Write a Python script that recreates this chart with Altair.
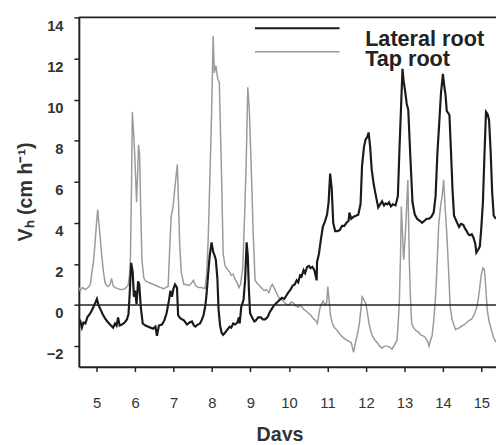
import altair as alt
import pandas as pd

# Lateral root (black)
lat_days = [4.54, 4.58, 4.62, 4.66, 4.71, 4.76, 4.84, 4.92, 5.01, 5.05, 5.10, 5.16, 5.22, 5.28, 5.35, 5.43,
            5.48, 5.52, 5.56, 5.60, 5.66, 5.73, 5.79, 5.83, 5.86, 5.90, 5.94, 5.97, 6.00, 6.04, 6.08, 6.11,
            6.15, 6.20, 6.27, 6.33, 6.40, 6.47, 6.53, 6.57, 6.62, 6.70, 6.76, 6.82, 6.88, 6.92, 6.96, 7.00,
            7.04, 7.09, 7.12, 7.18, 7.27, 7.35, 7.42, 7.48, 7.53, 7.57, 7.63, 7.69, 7.74, 7.78, 7.83, 7.86,
            7.90, 7.94, 7.99, 8.03, 8.07, 8.10, 8.14, 8.17, 8.21, 8.25, 8.29, 8.34, 8.40, 8.46, 8.50, 8.55,
            8.60, 8.66, 8.70, 8.72, 8.76, 8.82, 8.86, 8.90, 8.93, 8.96, 8.99, 9.04, 9.10, 9.14, 9.20, 9.27,
            9.32, 9.38, 9.44, 9.50, 9.55, 9.60, 9.65, 9.70, 9.76, 9.82, 9.88, 9.93, 9.98, 10.04, 10.10, 10.15,
            10.20, 10.24, 10.29, 10.33, 10.38, 10.42, 10.47, 10.52, 10.56, 10.61, 10.66, 10.72, 10.73, 10.78,
            10.83, 10.88, 10.94, 10.99, 11.03, 11.07, 11.11, 11.15, 11.20, 11.26, 11.32, 11.38, 11.44, 11.49,
            11.55, 11.57, 11.62, 11.68, 11.74, 11.80, 11.86, 11.90, 11.95, 11.99, 12.04, 12.07, 12.11, 12.15,
            12.20, 12.26, 12.32, 12.37, 12.42, 12.47, 12.51, 12.56, 12.60, 12.65, 12.70, 12.77, 12.83, 12.87,
            12.92, 12.95, 12.98, 13.02, 13.06, 13.10, 13.15, 13.21, 13.27, 13.33, 13.40, 13.46, 13.52, 13.58,
            13.64, 13.70, 13.76, 13.81, 13.86, 13.90, 13.95, 14.00, 14.04, 14.07, 14.10, 14.17, 14.21, 14.25,
            14.29, 14.36, 14.42, 14.47, 14.53, 14.58, 14.62, 14.66, 14.70, 14.75, 14.79, 14.84, 14.87, 14.92,
            14.96, 15.00, 15.04, 15.08, 15.12, 15.16, 15.20, 15.24, 15.28, 15.32, 15.38]
lat_vals = [-0.65, -0.8, -1.1, -0.85, -0.9, -0.6, -0.4, -0.1, 0.3, 0.0, -0.2, -0.45, -0.65, -0.8, -0.95, -1.1,
            -0.9, -1.0, -0.6, -1.0, -0.95, -0.85, -0.7, -0.45, 0.5, 2.05, 1.6, 0.4, 0.7, 0.05, 1.15, 1.0,
            -0.1, -0.9, -1.0, -1.05, -1.1, -1.15, -1.05, -1.5, -1.0, -0.95, -0.75, -0.4, 0.2, 0.7, 0.4, 0.8,
            1.0, 0.85, -0.5, -0.65, -0.75, -0.95, -0.85, -0.8, -1.0, -1.05, -0.95, -0.9, -0.7, -0.5, 0.0, 0.55,
            1.5, 2.4, 3.05, 2.6, 2.4, 2.2, 1.3, -0.2, -1.0, -1.35, -1.45, -1.35, -1.2, -1.05, -1.1, -0.9,
            -0.95, -0.85, -0.6, -0.9, -0.1, 0.25, 1.2, 3.05, 2.4, 0.7, -0.4, -0.6, -0.8, -0.75, -0.6, -0.6,
            -0.7, -0.7, -0.6, -0.35, -0.2, -0.05, 0.05, 0.15, 0.25, 0.35, 0.3, 0.45, 0.6, 0.75, 0.95, 1.0,
            1.2, 1.1, 1.45, 1.4, 1.7, 1.55, 1.85, 1.9, 1.8, 1.85, 1.7, 1.2, 2.1, 2.5,
            3.2, 3.8, 4.1, 4.4, 5.0, 6.4, 5.7, 4.0, 3.6, 3.6, 3.65, 3.85, 3.85, 4.0,
            4.1, 4.5, 4.2, 4.3, 4.35, 4.4, 4.9, 6.8, 7.7, 8.05, 8.2, 8.4, 7.7, 6.6,
            5.9, 5.3, 4.75, 4.9, 5.05, 4.85, 4.95, 4.9, 5.0, 4.8, 4.9, 4.85, 5.3, 7.5,
            10.0, 11.5, 10.9, 10.4, 9.8, 9.5, 7.4, 5.0, 4.4, 4.2, 4.1, 4.0, 4.1, 4.2,
            4.2, 4.3, 4.5, 5.3, 7.5, 8.7, 10.3, 11.25, 10.6, 10.2, 9.45, 9.25, 7.5, 5.6,
            4.35, 4.05, 3.8, 3.95, 3.9, 3.7, 3.6, 3.45, 3.4, 3.45, 3.3, 3.0, 2.55, 2.7,
            2.85, 3.8, 5.0, 7.3, 9.4, 9.3, 9.0, 7.5, 5.5, 4.35, 4.2]

# Tap root (grey)
tap_days = [4.54, 4.58, 4.64, 4.71, 4.78, 4.84, 4.88, 4.92, 4.96, 5.00, 5.03, 5.06, 5.09, 5.13, 5.18, 5.22,
            5.26, 5.30, 5.35, 5.39, 5.43, 5.48, 5.55, 5.65, 5.74, 5.82, 5.86, 5.88, 5.91, 5.93, 5.96, 5.99,
            6.02, 6.04, 6.07, 6.09, 6.12, 6.15, 6.18, 6.23, 6.29, 6.35, 6.42, 6.48, 6.54, 6.60, 6.67, 6.74,
            6.80, 6.86, 6.90, 6.94, 6.99, 7.04, 7.10, 7.13, 7.16, 7.20, 7.27, 7.33, 7.40, 7.46, 7.52, 7.57,
            7.65, 7.72, 7.82, 7.86, 7.90, 7.95, 7.99, 8.03, 8.06, 8.10, 8.15, 8.19, 8.22, 8.25, 8.29, 8.34,
            8.38, 8.42, 8.46, 8.50, 8.55, 8.60, 8.65, 8.70, 8.74, 8.80, 8.85, 8.89, 8.93, 8.97, 9.00, 9.04,
            9.07, 9.12, 9.18, 9.23, 9.30, 9.36, 9.42, 9.48, 9.53, 9.57, 9.61, 9.65, 9.70, 9.74, 9.80, 9.87,
            9.92, 10.00, 10.06, 10.12, 10.18, 10.25, 10.30, 10.38, 10.45, 10.51, 10.57, 10.63, 10.69, 10.74,
            10.80, 10.83, 10.89, 10.94, 10.98, 11.01, 11.04, 11.08, 11.13, 11.18, 11.24, 11.30, 11.36, 11.42,
            11.49, 11.55, 11.62, 11.68, 11.72, 11.77, 11.83, 11.87, 11.90, 11.95, 12.00, 12.04, 12.08, 12.13,
            12.17, 12.23, 12.30, 12.36, 12.42, 12.48, 12.55, 12.62, 12.68, 12.74, 12.81, 12.85, 12.87, 12.90,
            12.92, 12.95, 12.98, 13.01, 13.04, 13.07, 13.09, 13.11, 13.13, 13.16, 13.19, 13.24, 13.30, 13.36,
            13.42, 13.49, 13.55, 13.60, 13.64, 13.68, 13.72, 13.76, 13.81, 13.85, 13.89, 13.94, 13.98, 14.02,
            14.06, 14.10, 14.14, 14.19, 14.24, 14.28, 14.33, 14.38, 14.44, 14.50, 14.56, 14.62, 14.68, 14.74,
            14.79, 14.83, 14.88, 14.92, 14.96, 15.00, 15.04, 15.08, 15.11, 15.15, 15.20, 15.26, 15.32, 15.38]
tap_vals = [0.85, 0.7, 0.85, 0.75, 0.85, 1.0, 1.6, 2.1, 3.0, 4.0, 4.65, 4.0, 3.4, 2.5, 1.6, 1.1,
            0.95, 0.9, 1.0, 1.3, 0.95, 0.85, 0.8, 0.75, 0.8, 0.95, 1.5, 2.2, 6.0, 9.4, 8.5, 7.4,
            6.0, 5.0, 6.5, 7.8, 7.3, 4.5, 2.2, 1.3, 1.15, 1.1, 1.05, 1.0, 0.95, 0.9, 0.85, 0.8,
            0.85, 0.9, 2.7, 4.3, 4.8, 5.8, 6.85, 5.0, 3.0, 1.6, 1.0, 1.0, 0.95, 1.05, 1.2, 0.95,
            0.85, 0.85, 0.8, 1.5, 3.1, 6.5, 9.4, 13.1, 11.3, 11.65, 11.0, 10.85, 8.5, 6.2, 2.5, 1.9,
            1.8, 1.7, 1.6, 1.45, 1.5, 1.25, 1.1, 0.85, 1.0, 1.8, 4.5, 7.0, 10.6, 9.5, 7.8, 5.5,
            3.5, 1.2, 1.05, 0.95, 0.8, 0.7, 0.75, 0.6, 0.9, 1.0, 0.85, 0.7, 0.5, 0.35, 0.3, 0.15,
            0.05, 0.0, 0.15, 0.1, -0.05, -0.1, 0.0, -0.2, -0.3, -0.4, -0.5, -0.65, -0.75, -0.9,
            -0.2, 0.0, 0.2, 0.0, 0.1, 0.9, 0.3, -0.5, -0.9, -1.1, -1.2, -1.35, -1.5, -1.6,
            -1.7, -1.75, -1.85, -2.3, -1.9, -1.5, -0.9, -0.2, 0.4, 0.25, 0.05, -0.4, -0.9, -1.3,
            -1.5, -1.7, -1.85, -2.0, -2.1, -2.0, -2.0, -2.05, -2.15, -1.95, -1.7, -0.5, 0.3, 2.5,
            4.8, 3.5, 2.2, 3.0, 4.0, 5.3, 6.1, 4.0, 2.0, 0.2, -0.9, -1.1, -1.25, -1.3,
            -1.45, -1.5, -1.6, -1.75, -2.0, -1.7, -1.5, -0.8, 0.4, 2.0, 3.9, 4.8, 5.3, 6.1,
            4.7, 3.5, 2.0, -0.1, -0.7, -0.95, -1.2, -1.15, -1.1, -1.0, -0.95, -0.85, -0.75, -0.7,
            -0.55, -0.4, -0.1, 0.3, 0.9, 1.5, 1.8, 1.7, 1.0, -0.2, -0.8, -1.2, -1.6, -1.8]

x_ticks = [5, 6, 7, 8, 9, 10, 11, 12, 13, 14, 15]
y_ticks = [-2, 0, 2, 4, 6, 8, 10, 12, 14]
x_domain = [4.54, 15.38]
y_domain = [-3, 14]
series_names = ["Lateral root", "Tap root"]
ref_lines = [0, 14]

FONT = "Liberation Sans"

lat_df = pd.DataFrame({"day": lat_days, "v": lat_vals})
tap_df = pd.DataFrame({"day": tap_days, "v": tap_vals})
ref_df = pd.DataFrame({"y": ref_lines})

xs = alt.Scale(domain=x_domain, nice=False, zero=False)
ys = alt.Scale(domain=y_domain, nice=False, zero=False)

x_axis = alt.Axis(values=x_ticks, grid=False, tickSize=5, tickWidth=1.5, tickColor="#222",
                  domainColor="#222", domainWidth=2, labelFont=FONT, labelFontSize=15,
                  labelColor="#333", labelPadding=24, title="Days", titleFont=FONT,
                  titleFontSize=20, titleFontWeight="bold", titleColor="#333",
                  titleBaseline="top", titleY=59, titleX=204)
y_axis = alt.Axis(values=y_ticks, grid=False, tickSize=5, tickWidth=1.5, tickColor="#222",
                  domainColor="#222", domainWidth=2, labelFont=FONT, labelFontSize=15,
                  labelFontWeight="bold", labelColor="#333", labelPadding=11, labelOffset=8,
                  title="Vₕ (cm h⁻¹)", titleFont=FONT, titleFontSize=20,
                  titleFontWeight="bold", titleColor="#333", titleAngle=270,
                  titleBaseline="middle", titleX=-54, titleY=177)

tap = alt.Chart(tap_df).mark_line(color="#9a9a9a", strokeWidth=1.5, clip=True).encode(
    x=alt.X("day:Q", scale=xs, axis=x_axis),
    y=alt.Y("v:Q", scale=ys, axis=y_axis),
)
lat = alt.Chart(lat_df).mark_line(color="#1a1a1a", strokeWidth=2.2, clip=True).encode(
    x=alt.X("day:Q", scale=xs),
    y=alt.Y("v:Q", scale=ys),
)
refs = alt.Chart(ref_df).mark_rule(color="#222", strokeWidth=1.6).encode(
    y=alt.Y("y:Q", scale=ys)
)

leg_lat = alt.Chart(pd.DataFrame({"a": [0]})).mark_rule(color="#1a1a1a", strokeWidth=2).encode(
    x=alt.value(179), x2=alt.value(265), y=alt.value(11))
leg_tap = alt.Chart(pd.DataFrame({"a": [0]})).mark_rule(color="#9a9a9a", strokeWidth=1.5).encode(
    x=alt.value(179), x2=alt.value(265), y=alt.value(35))
leg_txt1 = alt.Chart(pd.DataFrame({"t": [series_names[0]]})).mark_text(
    font=FONT, fontSize=22, fontWeight="bold", color="#222", align="left", baseline="alphabetic"
).encode(text="t:N", x=alt.value(291), y=alt.value(29))
leg_txt2 = alt.Chart(pd.DataFrame({"t": [series_names[1]]})).mark_text(
    font=FONT, fontSize=22, fontWeight="bold", color="#222", align="left", baseline="alphabetic"
).encode(text="t:N", x=alt.value(291), y=alt.value(49))

chart = alt.layer(tap, lat, refs, leg_lat, leg_tap, leg_txt1, leg_txt2).properties(
    width=424, height=355,
    autosize=alt.AutoSizeParams(type="none"),
    padding={"left": 72, "top": 6, "right": 0, "bottom": 72},
    background="white",
).configure_view(stroke=None)

chart.save("out.html", embed_options={"renderer": "svg", "actions": False})
